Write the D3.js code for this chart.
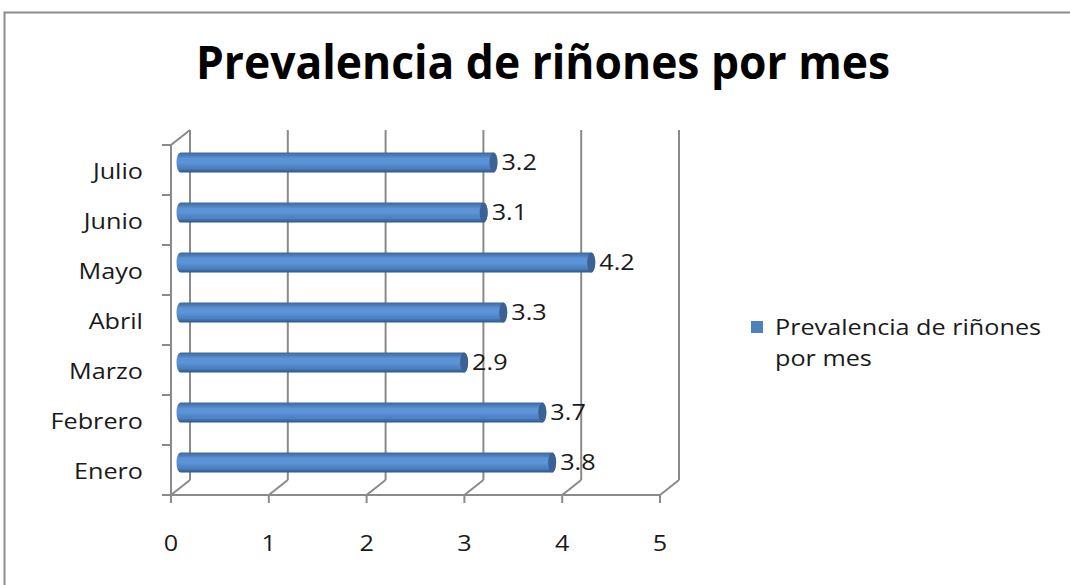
<!doctype html>
<html>
<head>
<meta charset="UTF-8">
<title>Prevalencia de riñones por mes</title>
<script src="https://cdn.jsdelivr.net/npm/d3@7"></script>
<style>
  body { margin: 0; background: #fff; }
  svg { display: block; font-family: "Open Sans", "Noto Sans", sans-serif; }
</style>
</head>
<body>
<div id="chart"></div>
<script>
// data
const months = ["Enero", "Febrero", "Marzo", "Abril", "Mayo", "Junio", "Julio"];
const values = [3.8, 3.7, 2.9, 3.3, 4.2, 3.1, 3.2];
const xTicks = [0, 1, 2, 3, 4, 5];
const seriesName = "Prevalencia de riñones por mes";

const W = 1070, H = 585;
const depth = { dx: 19, dy: -15 };   // 3d offset of the back wall
const stretch = 1.2;                 // the original text is drawn wide
const fs = 21;

const svg = d3.select("#chart").append("svg")
    .attr("width", W).attr("height", H);

// text helper, stretched horizontally around its anchor
function label(g, px, py, str, anchor) {
  return g.append("text")
      .attr("transform", `translate(${px},${py}) scale(${stretch},1)`)
      .attr("text-anchor", anchor || "start")
      .attr("font-size", fs).attr("fill", "#1a1a1a")
      .text(str);
}

// outer frame
svg.append("path")
    .attr("d", `M4.5,${H} V12.5 H${W}`)
    .attr("fill", "none").attr("stroke", "#8c8c8c").attr("stroke-width", 2);

// title
svg.append("text")
    .attr("x", 543).attr("y", 79)
    .attr("text-anchor", "middle")
    .attr("font-size", 47).attr("font-weight", "bold")
    .attr("textLength", 694).attr("lengthAdjust", "spacingAndGlyphs")
    .text(seriesName);

const x = d3.scaleLinear().domain([0, 5]).range([171, 660]);
const y = d3.scaleBand().domain(months).range([495, 145]);

const grid = svg.append("g").attr("stroke", "#8a8a8a").attr("stroke-width", 2).attr("fill", "none");

// back wall vertical gridlines + floor diagonals
xTicks.forEach(t => {
  const fx = x(t), bx = fx + depth.dx;
  grid.append("line").attr("x1", bx).attr("x2", bx)
      .attr("y1", 145 + depth.dy).attr("y2", 495 + depth.dy);
  grid.append("line").attr("x1", fx).attr("x2", bx)
      .attr("y1", 495).attr("y2", 495 + depth.dy);
  grid.append("line").attr("x1", fx).attr("x2", fx)
      .attr("y1", 495).attr("y2", 503);
});
// floor front edge
grid.append("line").attr("x1", x(0)).attr("x2", x(5)).attr("y1", 495).attr("y2", 495);
// left axis and its top corner
grid.append("path").attr("d", `M${x(0)},495 V145 L${x(0) + depth.dx},${145 + depth.dy}`);
// category ticks
months.forEach(m => {
  grid.append("line").attr("x1", x(0) - 9).attr("x2", x(0))
      .attr("y1", y(m) + y.bandwidth()).attr("y2", y(m) + y.bandwidth());
});
grid.append("line").attr("x1", x(0) - 9).attr("x2", x(0)).attr("y1", 145).attr("y2", 145);

// axis labels
const xl = svg.append("g");
xTicks.forEach(t => label(xl, x(t), 551, t, "middle"));
const yl = svg.append("g");
months.forEach(m => label(yl, 143, y(m) + y.bandwidth() / 2 + 9, m, "end"));

// cylinder gradient
const defs = svg.append("defs");
const grad = defs.append("linearGradient").attr("id", "cyl")
    .attr("x1", 0).attr("x2", 0).attr("y1", 0).attr("y2", 1);
[[0, "#3d679c"], [0.3, "#5b93d6"], [0.5, "#5c94d8"], [0.8, "#4a7fc0"], [1, "#2f5585"]]
  .forEach(([o, c]) => grad.append("stop").attr("offset", o).attr("stop-color", c));

const barH = 20, midX = depth.dx / 2, midY = depth.dy / 2;
const bars = svg.append("g");
const vl = svg.append("g");
months.forEach((m, i) => {
  const cy = y(m) + y.bandwidth() / 2 + midY;
  const x0 = x(0) + midX, x1 = x(values[i]) + midX;
  const rx = 4, r = barH / 2;
  bars.append("path")
      .attr("d", `M${x0},${cy - r} H${x1} A${rx},${r} 0 0 1 ${x1},${cy + r} H${x0} A${rx},${r} 0 0 1 ${x0},${cy - r} Z`)
      .attr("fill", "url(#cyl)");
  bars.append("ellipse")
      .attr("cx", x1).attr("cy", cy).attr("rx", rx).attr("ry", r)
      .attr("fill", "#3a6294");
  label(vl, x1 + rx + 4, cy + 7, values[i]);
});

// legend
svg.append("rect").attr("x", 751).attr("y", 321).attr("width", 12).attr("height", 12)
    .attr("fill", "#4f81bd");
const lg = svg.append("g");
label(lg, 775, 335, "Prevalencia de riñones");
label(lg, 775, 366, "por mes");
</script>
</body>
</html>
